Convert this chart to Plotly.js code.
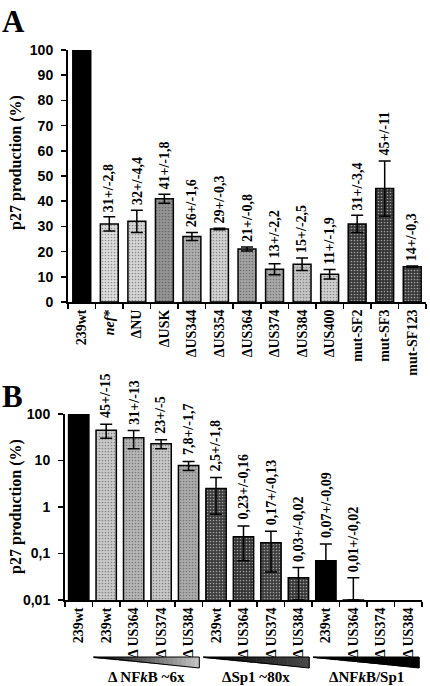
<!DOCTYPE html>
<html>
<head>
<meta charset="utf-8">
<script src="https://cdn.plot.ly/plotly-3.0.1.min.js"></script>
<style>
  html, body { margin: 0; padding: 0; background: #fff; }
  #chart { width: 430px; height: 686px; }
</style>
</head>
<body>
<div id="chart"></div>
<script>
// ---- Panel A: p27 production of nef / U3 deletion mutants (%) ----
const namesA = ['239wt', '<i>nef</i>*', 'ΔNU', 'ΔUSK', 'ΔUS344', 'ΔUS354', 'ΔUS364',
                'ΔUS374', 'ΔUS384', 'ΔUS400', 'mut-SF2', 'mut-SF3', 'mut-SF123'];
const valuesA = [100, 31, 32, 41, 26, 29, 21, 13, 15, 11, 31, 45, 14];
const errorsA = [0, 2.8, 4.4, 1.8, 1.6, 0.3, 0.8, 2.2, 2.5, 1.9, 3.4, 11, 0.3];
const yTicksA = [0, 10, 20, 30, 40, 50, 60, 70, 80, 90, 100];

// ---- Panel B: p27 production on a log scale (%) ----
const namesB = ['239wt', '239wt', 'Δ US364', 'Δ US374', 'Δ US384',
                '239wt', 'Δ US364', 'Δ US374', 'Δ US384',
                '239wt', 'Δ US364', 'Δ US374', 'Δ US384'];
const valuesB = [100, 45, 31, 23, 7.8, 2.5, 0.23, 0.17, 0.03, 0.07, 0.01, null, null];
const errorsB = [0, 15, 13, 5, 1.7, 1.8, 0.16, 0.13, 0.02, 0.09, 0.02, null, null];
const yTicksB = [0.01, 0.1, 1, 10, 100];
const yTickTextB = ['0,01', '0,1', '1', '10', '100'];
const groupsB = ['Δ NF<i>k</i>B ~6x', 'ΔSp1 ~80x', 'ΔNF<i>k</i>B/Sp1'];

// ---- styling ----
const colorsA = ['#000000', '#dedede', '#d6d6d6', '#949494', '#aeaeae', '#d2d2d2', '#a2a2a2',
                 '#a8a8a8', '#c6c6c6', '#d0d0d0', '#383838', '#333333', '#383838'];
const colorsB = ['#000000', '#cacaca', '#b6b6b6', '#c8c8c8', '#acacac',
                 '#3c3c3c', '#333333', '#3c3c3c', '#363636',
                 '#000000', '#000000', '#000000', '#000000'];
const W = 430, H = 686;
const SERIF = 'Liberation Serif, Times New Roman, serif';
const SANS = 'Liberation Sans, Arial, sans-serif';

// plot areas in pixels
const boxA = { x0: 68, x1: 426, y0: 50, y1: 302 };
const boxB = { x0: 65, x1: 422, y0: 414, y1: 600 };
const px = x => x / W;
const py = y => 1 - y / H;

const keys = n => Array.from({ length: n }, (_, i) => 'c' + i);
const keysA = keys(namesA.length);
const keysB = keys(namesB.length);

const fmt = v => String(v).replace('.', ',');
// stippled fill on grey bars, solid fill on black bars
const stipple = cols => ({
  shape: cols.map(c => (c === '#000000' ? '' : '.')),
  fillmode: 'overlay', size: 3, solidity: 0.25, fgcolor: '#6a6a6a', fgopacity: 0.5
});

const traceA = {
  type: 'bar', x: keysA, y: valuesA, xaxis: 'x', yaxis: 'y', width: 0.65,
  marker: { color: colorsA, line: { color: '#000', width: 1.5 }, pattern: stipple(colorsA) },
  error_y: { type: 'data', array: errorsA, visible: true, color: '#000', thickness: 1.5, width: 6 },
  hoverinfo: 'skip', showlegend: false
};

const minusB = valuesB.map((v, i) => (v == null ? null : (v - errorsB[i] > 0 ? errorsB[i] : 0)));
const traceB = {
  type: 'bar', x: keysB, y: valuesB, xaxis: 'x2', yaxis: 'y2', width: 0.74,
  marker: { color: colorsB, line: { color: '#000', width: 1.5 }, pattern: stipple(colorsB) },
  error_y: { type: 'data', symmetric: false, array: errorsB, arrayminus: minusB, visible: true,
             color: '#000', thickness: 1.5, width: 6 },
  hoverinfo: 'skip', showlegend: false
};

const annotations = [];
const labelFont = { family: SERIF, size: 14, color: '#000', weight: 'bold' };
// value labels above the error bars
valuesA.forEach((v, i) => {
  if (!errorsA[i]) return;
  annotations.push({
    xref: 'x', yref: 'y', x: keysA[i], y: v + errorsA[i], xanchor: 'center', yanchor: 'bottom', yshift: 3,
    text: fmt(v) + '+/-' + fmt(errorsA[i]), textangle: -90, showarrow: false, font: labelFont
  });
});
valuesB.forEach((v, i) => {
  if (v == null || !errorsB[i]) return;
  annotations.push({
    xref: 'x2', yref: 'y2', x: keysB[i], y: Math.log10(v + errorsB[i]), xanchor: 'center', yanchor: 'bottom',
    yshift: 4, text: fmt(v) + '+/-' + fmt(errorsB[i]), textangle: -90, showarrow: false, font: labelFont
  });
});
// panel letters and y-axis titles
const titleFont = { family: SERIF, size: 16, color: '#000', weight: 'bold' };
annotations.push(
  { xref: 'paper', yref: 'paper', x: px(0), y: py(2), xanchor: 'left', yanchor: 'top', text: 'A',
    showarrow: false, font: { family: SERIF, size: 31, color: '#000', weight: 'bold' } },
  { xref: 'paper', yref: 'paper', x: px(0), y: py(377), xanchor: 'left', yanchor: 'top', text: 'B',
    showarrow: false, font: { family: SERIF, size: 31, color: '#000', weight: 'bold' } },
  { xref: 'paper', yref: 'paper', x: px(16), y: py(163), xanchor: 'center', yanchor: 'middle',
    text: 'p27 production (%)', textangle: -90, showarrow: false, font: titleFont },
  { xref: 'paper', yref: 'paper', x: px(16), y: py(507), xanchor: 'center', yanchor: 'middle',
    text: 'p27 production (%)', textangle: -90, showarrow: false, font: titleFont }
);

// wedges under the three groups of panel B, shaded from black to the group colour
const shapes = [];
const step = (boxB.x1 - boxB.x0) / namesB.length;
const wedgeTop = 657, wedgeBottom = 668;
const wedgeEnds = [['#000000', '#c4c4c4'], ['#000000', '#4a4a4a'], ['#000000', '#000000']];
const mix = (a, b, t) => {
  const c = k => Math.round(parseInt(a.substr(k, 2), 16) * (1 - t) + parseInt(b.substr(k, 2), 16) * t);
  return 'rgb(' + c(1) + ',' + c(3) + ',' + c(5) + ')';
};
groupsB.forEach((label, g) => {
  const xa = boxB.x0 + step * (1 + 4 * g) + 1;
  const xb = boxB.x0 + step * (5 + 4 * g) - 3;
  const n = 24;
  for (let s = 0; s < n; s++) {
    const u0 = s / n, u1 = (s + 1) / n;
    const x0 = xa + (xb - xa) * u0, x1 = xa + (xb - xa) * u1 + 0.6;
    const y0 = wedgeTop + 1 + (wedgeBottom - wedgeTop - 1) * u0;
    const y1 = wedgeTop + 1 + (wedgeBottom - wedgeTop - 1) * Math.min(1, u1 + 0.6 / (xb - xa));
    shapes.push({
      type: 'path', xref: 'paper', yref: 'paper', layer: 'above',
      path: `M${px(x0)},${py(wedgeTop)} L${px(x1)},${py(wedgeTop)} L${px(x1)},${py(y1)} L${px(x0)},${py(y0)} Z`,
      fillcolor: mix(wedgeEnds[g][0], wedgeEnds[g][1], (u0 + u1) / 2), line: { width: 0 }
    });
  }
  shapes.push({
    type: 'path', xref: 'paper', yref: 'paper', layer: 'above',
    path: `M${px(xa)},${py(wedgeTop)} L${px(xb)},${py(wedgeTop)} L${px(xb)},${py(wedgeBottom)} Z`,
    fillcolor: 'rgba(0,0,0,0)', line: { color: '#000', width: 1 }
  });
  annotations.push({
    xref: 'paper', yref: 'paper', x: px((xa + xb) / 2), y: py(677), xanchor: 'center', yanchor: 'middle',
    text: label, showarrow: false, font: { family: SERIF, size: 15, color: '#000', weight: 'bold' }
  });
});

const xAxisBase = {
  type: 'category', tickmode: 'array', tickson: 'boundaries', ticks: 'outside', ticklen: 5,
  tickwidth: 1.5, tickcolor: '#000', tickangle: -90, showline: true, linecolor: '#000', linewidth: 2,
  showgrid: false, zeroline: false, fixedrange: true,
  tickfont: { family: SERIF, size: 14, color: '#000', weight: 'bold' }
};
const yAxisBase = {
  ticks: 'outside', ticklen: 5, tickwidth: 1.5, tickcolor: '#000', showline: true, linecolor: '#000',
  linewidth: 2, showgrid: false, zeroline: false, fixedrange: true, ticklabelstandoff: 5,
  tickfont: { family: SANS, size: 14, color: '#000', weight: 'bold' }
};

const layout = {
  width: W, height: H, margin: { l: 0, r: 0, t: 0, b: 0 },
  paper_bgcolor: '#fff', plot_bgcolor: '#fff', bargap: 0,
  xaxis: Object.assign({}, xAxisBase, {
    domain: [px(boxA.x0), px(boxA.x1)], anchor: 'y', tickvals: keysA, ticktext: namesA,
    range: [-0.5, namesA.length - 0.5]
  }),
  yaxis: Object.assign({}, yAxisBase, {
    domain: [py(boxA.y1), py(boxA.y0)], anchor: 'x', range: [0, 100], tickmode: 'array', tickvals: yTicksA
  }),
  xaxis2: Object.assign({}, xAxisBase, {
    domain: [px(boxB.x0), px(boxB.x1)], anchor: 'y2', tickvals: keysB, ticktext: namesB,
    range: [-0.5, namesB.length - 0.5]
  }),
  yaxis2: Object.assign({}, yAxisBase, {
    domain: [py(boxB.y1), py(boxB.y0)], anchor: 'x2', type: 'log', range: [-2, 2],
    tickmode: 'array', tickvals: yTicksB, ticktext: yTickTextB
  }),
  annotations: annotations,
  shapes: shapes
};

Plotly.newPlot('chart', [traceA, traceB], layout, { staticPlot: true, displayModeBar: false });
</script>
</body>
</html>
